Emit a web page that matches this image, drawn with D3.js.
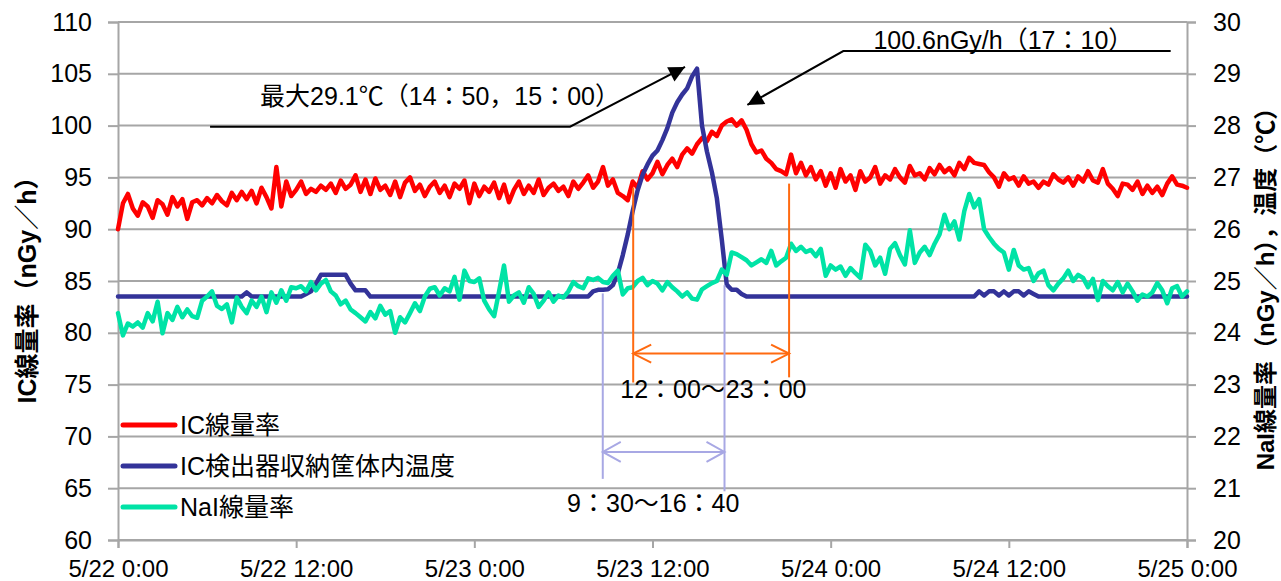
<!DOCTYPE html>
<html>
<head>
<meta charset="utf-8">
<script src="https://cdn.jsdelivr.net/npm/d3@7"></script>
<style>
body { margin: 0; background: #fff; }
svg text { font-family: "Liberation Sans", "Noto Sans CJK JP", sans-serif; fill: #000; }
</style>
</head>
<body>
<svg id="chart" width="1281" height="581"></svg>
<script>
// values every 20 minutes from 5/22 0:00 to 5/25 0:00 (rows = 2 hours)
var icRate = [
  90.0, 92.5, 93.4, 92.0, 91.3, 92.6,
  92.2, 91.1, 92.8, 92.4, 91.4, 93.1,
  92.2, 92.9, 91.0, 92.6, 92.8, 92.3,
  93.0, 92.5, 93.3, 92.7, 92.3, 93.5,
  92.8, 93.6, 92.9, 93.7, 92.5, 94.0,
  93.1, 92.0, 96.0, 92.2, 94.6, 93.2,
  93.8, 94.6, 93.4, 93.9, 93.6, 94.2,
  93.8, 94.4, 93.5, 94.7, 93.9, 94.3,
  95.2, 93.6, 94.8, 93.4, 94.9, 93.8,
  94.2, 93.3, 94.6, 93.1, 94.5, 95.0,
  93.7, 94.3, 93.2, 94.1, 94.6, 93.5,
  94.2, 93.1, 94.4, 93.9, 94.7, 92.5,
  94.4, 93.2, 94.1, 93.6, 94.5, 93.0,
  94.3, 92.6, 93.8, 94.6, 93.4, 94.2,
  93.5, 94.8, 93.3, 94.0, 94.4, 93.7,
  94.1, 93.2, 94.6, 93.9, 94.5, 95.2,
  94.0, 94.6, 96.0, 94.2, 94.8, 93.5,
  93.2, 92.8, 94.6, 94.0, 95.6, 94.8,
  95.4, 96.5, 95.3, 96.2, 96.8, 96.0,
  97.2, 97.8, 97.3, 98.2, 98.8, 98.5,
  99.4, 99.0, 100.0, 100.4, 100.6, 100.0,
  100.5, 99.6, 98.2, 97.4, 97.6, 96.8,
  96.4, 95.8, 95.6, 95.3, 97.2, 95.4,
  96.4, 95.2, 96.0, 94.8, 95.6, 94.2,
  95.4, 94.0, 95.8, 94.6, 95.2, 93.8,
  95.6, 94.6, 95.0, 96.0, 94.4, 95.2,
  94.8, 95.8, 95.0, 94.5, 96.1, 95.2,
  95.4, 94.8, 95.9, 95.3, 96.2, 95.5,
  95.9, 95.2, 96.4, 95.8, 96.9, 96.4,
  96.3, 96.2, 95.5, 95.0, 94.1, 95.4,
  94.8, 95.0, 94.2, 95.1, 94.4, 94.6,
  94.0, 94.6, 94.3, 95.3, 94.8, 94.5,
  95.0, 94.2, 95.1, 94.6, 95.6, 94.7,
  94.5, 95.8, 94.4, 93.9, 93.2, 94.4,
  94.3, 93.8, 94.6, 93.4, 94.2, 93.5,
  94.1, 93.3, 94.4, 95.1, 94.3, 94.2,
  94.0
];

var icTemp = [
  24.7, 24.7, 24.7, 24.7, 24.7, 24.7,
  24.7, 24.7, 24.7, 24.7, 24.7, 24.7,
  24.7, 24.7, 24.7, 24.7, 24.7, 24.7,
  24.7, 24.7, 24.7, 24.7, 24.7, 24.7,
  24.7, 24.7, 24.78, 24.7, 24.7, 24.7,
  24.7, 24.7, 24.7, 24.7, 24.7, 24.7,
  24.7, 24.7, 24.75, 24.8, 24.95, 25.12,
  25.12, 25.12, 25.12, 25.12, 25.12, 24.95,
  24.82, 24.82, 24.82, 24.7, 24.7, 24.7,
  24.7, 24.7, 24.7, 24.7, 24.7, 24.7,
  24.7, 24.7, 24.7, 24.7, 24.7, 24.7,
  24.7, 24.7, 24.7, 24.7, 24.7, 24.7,
  24.7, 24.7, 24.7, 24.7, 24.7, 24.7,
  24.7, 24.7, 24.7, 24.7, 24.7, 24.7,
  24.7, 24.7, 24.7, 24.7, 24.7, 24.7,
  24.7, 24.7, 24.7, 24.7, 24.7, 24.7,
  24.8, 24.83, 24.83, 24.84, 24.92, 25.15,
  25.5, 25.9, 26.35, 26.75, 27.05, 27.25,
  27.42, 27.52, 27.72, 27.95, 28.25, 28.45,
  28.6, 28.72, 28.95, 29.1, 28.0, 27.5,
  27.1, 26.6, 25.8, 24.93, 24.83, 24.83,
  24.75, 24.7, 24.7, 24.7, 24.7, 24.7,
  24.7, 24.7, 24.7, 24.7, 24.7, 24.7,
  24.7, 24.7, 24.7, 24.7, 24.7, 24.7,
  24.7, 24.7, 24.7, 24.7, 24.7, 24.7,
  24.7, 24.7, 24.7, 24.7, 24.7, 24.7,
  24.7, 24.7, 24.7, 24.7, 24.7, 24.7,
  24.7, 24.7, 24.7, 24.7, 24.7, 24.7,
  24.7, 24.7, 24.7, 24.7, 24.7, 24.7,
  24.8, 24.72, 24.8, 24.8, 24.72, 24.8,
  24.72, 24.8, 24.8, 24.72, 24.8, 24.75,
  24.7, 24.7, 24.7, 24.7, 24.7, 24.7,
  24.7, 24.7, 24.7, 24.7, 24.7, 24.7,
  24.7, 24.7, 24.7, 24.7, 24.7, 24.7,
  24.7, 24.7, 24.7, 24.7, 24.7, 24.7,
  24.7, 24.7, 24.7, 24.7, 24.7, 24.7,
  24.7
];

var naiRate = [
  24.38, 23.95, 24.18, 24.12, 24.2, 24.1,
  24.38, 24.22, 24.6, 23.99, 24.38, 24.25,
  24.5, 24.3, 24.45, 24.32, 24.29, 24.62,
  24.7, 24.8, 24.52, 24.46, 24.55, 24.2,
  24.68, 24.5, 24.38, 24.62, 24.5, 24.7,
  24.4, 24.78, 24.58, 24.82, 24.62, 24.88,
  24.86, 24.9, 24.8, 24.98, 24.82, 24.95,
  25.02, 24.8, 24.72, 24.55, 24.62, 24.45,
  24.38, 24.3, 24.22, 24.4, 24.28, 24.52,
  24.35, 24.42, 24.0, 24.3, 24.2, 24.38,
  24.57, 24.42, 24.7, 24.85, 24.88, 24.72,
  24.86, 24.8, 25.08, 24.64, 25.2, 25.0,
  24.98, 25.05, 24.62, 24.45, 24.32, 24.8,
  25.3, 24.6, 24.72, 24.78, 24.58, 24.88,
  24.75, 24.5, 24.62, 24.78, 24.6, 24.72,
  24.68, 24.8, 24.98, 24.9, 24.86, 25.05,
  25.02, 25.06, 24.98, 24.96, 25.1, 25.2,
  24.74, 24.86, 24.88, 25.0, 25.06, 24.92,
  25.0, 24.95, 24.82, 24.98, 24.88, 24.8,
  24.7, 24.78, 24.66, 24.64, 24.84, 24.9,
  24.96, 25.0, 25.22, 25.12, 25.55, 25.52,
  25.46, 25.4, 25.3, 25.36, 25.42, 25.35,
  25.58, 25.3, 25.38, 25.45, 25.72, 25.58,
  25.66, 25.56, 25.6, 25.48, 25.62, 25.1,
  25.3, 25.22, 25.28, 25.1, 25.25, 25.15,
  25.06, 25.7, 25.58, 25.3, 25.45, 25.14,
  25.62, 25.73, 25.5, 25.32, 25.98, 25.35,
  25.55, 25.66, 25.5, 25.72, 25.9, 26.28,
  26.0, 26.15, 25.8, 26.35, 26.68, 26.42,
  26.58, 26.0, 25.85, 25.72, 25.62, 25.55,
  25.22, 25.6, 25.3, 25.22, 25.25, 25.0,
  25.15, 25.2, 24.92, 24.82, 24.95, 25.05,
  25.2, 25.0, 25.12, 25.06, 24.88, 25.04,
  24.63, 25.0, 24.9, 24.82, 24.98, 24.78,
  24.95, 24.8, 24.62, 24.74, 24.7, 24.78,
  24.96, 24.82, 24.57, 24.86, 24.9, 24.7,
  24.8
];

var stepMinutes = 20;
var xTickLabels = ["5/22 0:00", "5/22 12:00", "5/23 0:00", "5/23 12:00", "5/24 0:00", "5/24 12:00", "5/25 0:00"];
var leftTicks = [60, 65, 70, 75, 80, 85, 90, 95, 100, 105, 110];
var rightTicks = [20, 21, 22, 23, 24, 25, 26, 27, 28, 29, 30];
var seriesNames = ["IC線量率", "IC検出器収納筐体内温度", "NaI線量率"];
var seriesColors = ["#ff0000", "#333399", "#00e3a6"];

var svg = d3.select("#chart");
var plotL = 118, plotR = 1187, plotT = 22, plotB = 540;

var start = new Date(2011, 4, 22, 0, 0);
var end = d3.timeHour.offset(start, 72);
function at(h) { return new Date(start.getTime() + h * 3600000); }

var x = d3.scaleTime().domain([start, end]).range([plotL, plotR]);
var yL = d3.scaleLinear().domain([60, 110]).range([plotB, plotT]);
var yR = d3.scaleLinear().domain([20, 30]).range([plotB, plotT]);

var times = icRate.map(function(d, i) { return d3.timeMinute.offset(start, i * stepMinutes); });

// grid
svg.append("g").selectAll("line")
  .data(leftTicks).enter().append("line")
  .attr("x1", plotL).attr("x2", plotR)
  .attr("y1", function(d) { return yL(d); }).attr("y2", function(d) { return yL(d); })
  .attr("stroke", "#a6a6a6").attr("stroke-width", 2);

// axes
var xTickDates = d3.timeHour.range(start, d3.timeHour.offset(end, 1), 12);
var gx = svg.append("g").attr("transform", "translate(0," + plotB + ")")
  .call(d3.axisBottom(x).tickValues(xTickDates).tickSize(8).tickPadding(4)
    .tickFormat(function(d, i) { return xTickLabels[i]; }));
var gl = svg.append("g").attr("transform", "translate(" + plotL + ",0)")
  .call(d3.axisLeft(yL).tickValues(leftTicks).tickSize(10).tickPadding(16));
var gr = svg.append("g").attr("transform", "translate(" + plotR + ",0)")
  .call(d3.axisRight(yR).tickValues(rightTicks).tickSize(9).tickPadding(17));

[gx, gl, gr].forEach(function(g) {
  g.selectAll(".domain").attr("stroke", "#a6a6a6").attr("stroke-width", 2);
  g.selectAll(".tick line").attr("stroke", "#a6a6a6").attr("stroke-width", 2);
  g.selectAll("text").attr("font-size", 25).attr("fill", "#000")
    .style("font-family", "'Liberation Sans', sans-serif");
});
gx.selectAll("text").attr("font-size", 24).attr("dy", "1.05em");

// axis titles
svg.append("text")
  .attr("transform", "translate(36,284) rotate(-90)")
  .attr("text-anchor", "middle").attr("font-size", 25).attr("font-weight", "bold")
  .text("IC線量率（nGy／h）");
svg.append("text")
  .attr("transform", "translate(1274,283) rotate(-90)")
  .attr("text-anchor", "middle").attr("font-size", 24).attr("font-weight", "bold")
  .text("NaI線量率（nGy／h），温度（℃）");

// series
var lineL = d3.line().x(function(d, i) { return x(times[i]); }).y(function(d) { return yL(d); });
var lineR = d3.line().x(function(d, i) { return x(times[i]); }).y(function(d) { return yR(d); });

svg.append("path").datum(icRate).attr("d", lineL)
  .attr("fill", "none").attr("stroke", seriesColors[0]).attr("stroke-width", 4.5)
  .attr("stroke-linejoin", "round").attr("stroke-linecap", "round");
svg.append("path").datum(icTemp).attr("d", lineR)
  .attr("fill", "none").attr("stroke", seriesColors[1]).attr("stroke-width", 4.5)
  .attr("stroke-linejoin", "round").attr("stroke-linecap", "round");
svg.append("path").datum(naiRate).attr("d", lineR)
  .attr("fill", "none").attr("stroke", seriesColors[2]).attr("stroke-width", 4.5)
  .attr("stroke-linejoin", "round").attr("stroke-linecap", "round");

// legend
var lg = svg.append("g");
seriesNames.forEach(function(name, i) {
  var yy = 425 + i * 41;
  lg.append("line").attr("x1", 123).attr("x2", 175).attr("y1", yy).attr("y2", yy)
    .attr("stroke", seriesColors[i]).attr("stroke-width", 5).attr("stroke-linecap", "round");
  lg.append("text").attr("x", 180).attr("y", yy).attr("dy", "0.36em")
    .attr("font-size", 25).text(name);
});

// annotations
function px(p) { return [x(at(p[0])), yL(p[1])]; }
function arrowHead(g, from, tip, len, half, filled, color) {
  var a = Math.atan2(tip[1] - from[1], tip[0] - from[0]);
  var bx = tip[0] - len * Math.cos(a), by = tip[1] - len * Math.sin(a);
  var p1 = [bx + half * Math.sin(a), by - half * Math.cos(a)];
  var p2 = [bx - half * Math.sin(a), by + half * Math.cos(a)];
  if (filled) {
    g.append("path").attr("d", "M" + tip + "L" + p1 + "L" + p2 + "Z").attr("fill", color);
  } else {
    g.append("path").attr("d", "M" + p1 + "L" + tip + "L" + p2)
      .attr("fill", "none").attr("stroke", color).attr("stroke-width", 2);
  }
}

var ann = svg.append("g");
var maxLine = [[6.2, 99.9], [30.45, 99.9], [38.19, 105.66]];
ann.append("path").attr("d", d3.line()(maxLine.map(px)))
  .attr("fill", "none").attr("stroke", "#000").attr("stroke-width", 2);
arrowHead(ann, px(maxLine[1]), px(maxLine[2]), 16, 8, true, "#000");
ann.append("text").attr("x", x(at(9.57))).attr("y", yL(101.99))
  .attr("font-size", 25).text("最大29.1℃（14：50，15：00）");

var peakLine = [[70.9, 107.2], [48.85, 107.2], [42.39, 101.99]];
ann.append("path").attr("d", d3.line()(peakLine.map(px)))
  .attr("fill", "none").attr("stroke", "#000").attr("stroke-width", 2);
arrowHead(ann, px(peakLine[1]), px(peakLine[2]), 16, 8, true, "#000");
ann.append("text").attr("x", x(at(50.88))).attr("y", yL(107.35))
  .attr("font-size", 25).text("100.6nGy/h（17：10）");

// 12:00-23:00 bracket (orange)
var orange = "#ff6a10";
ann.append("line").attr("x1", x(at(34.7))).attr("x2", x(at(34.7)))
  .attr("y1", yL(94.0)).attr("y2", yL(75.2)).attr("stroke", orange).attr("stroke-width", 2);
ann.append("line").attr("x1", x(at(45.2))).attr("x2", x(at(45.2)))
  .attr("y1", yL(94.4)).attr("y2", yL(75.7)).attr("stroke", orange).attr("stroke-width", 2);
ann.append("line").attr("x1", x(at(34.7))).attr("x2", x(at(45.2)))
  .attr("y1", yL(78.0)).attr("y2", yL(78.0)).attr("stroke", orange).attr("stroke-width", 2);
arrowHead(ann, px([40, 78.0]), px([34.7, 78.0]), 18, 9, false, orange);
arrowHead(ann, px([40, 78.0]), px([45.2, 78.0]), 18, 9, false, orange);
ann.append("text").attr("x", x(at(40.1))).attr("y", yL(73.7)).attr("text-anchor", "middle")
  .attr("font-size", 25).text("12：00～23：00");

// 9:30-16:40 bracket (lavender)
var lav = "#a8a8e4";
ann.append("line").attr("x1", x(at(32.65))).attr("x2", x(at(32.65)))
  .attr("y1", yL(83.8)).attr("y2", yL(65.9)).attr("stroke", lav).attr("stroke-width", 2);
ann.append("line").attr("x1", x(at(40.85))).attr("x2", x(at(40.85)))
  .attr("y1", yL(84.6)).attr("y2", yL(64.7)).attr("stroke", lav).attr("stroke-width", 2);
ann.append("line").attr("x1", x(at(32.65))).attr("x2", x(at(40.85)))
  .attr("y1", yL(68.5)).attr("y2", yL(68.5)).attr("stroke", lav).attr("stroke-width", 2);
arrowHead(ann, px([36, 68.5]), px([32.65, 68.5]), 18, 10, false, lav);
arrowHead(ann, px([36, 68.5]), px([40.85, 68.5]), 18, 10, false, lav);
ann.append("text").attr("x", x(at(36.05))).attr("y", yL(62.7)).attr("text-anchor", "middle")
  .attr("font-size", 25).text("9：30～16：40");
</script>
</body>
</html>
